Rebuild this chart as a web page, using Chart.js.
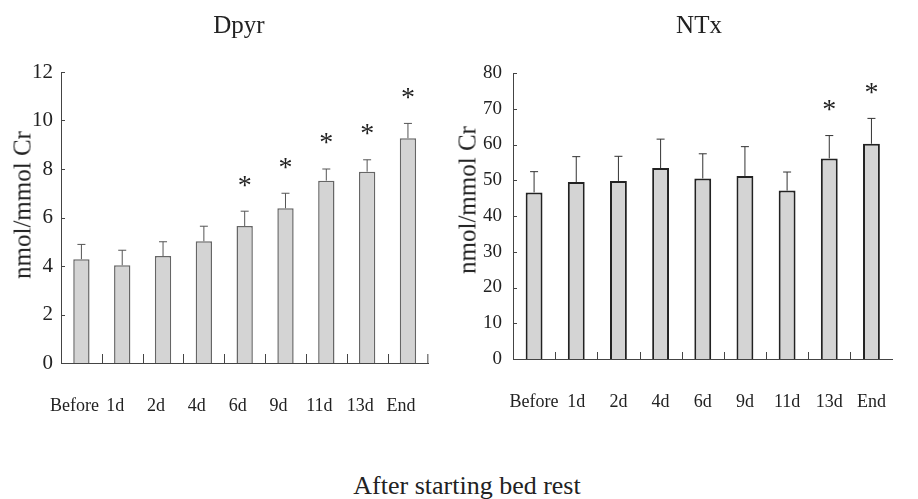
<!DOCTYPE html>
<html>
<head>
<meta charset="utf-8">
<script src="https://cdn.jsdelivr.net/npm/chart.js@4/dist/chart.umd.min.js"></script>
<style>
  body { margin: 0; background: #fff; }
  #wrap { position: relative; width: 918px; height: 499px; font-family: 'Liberation Serif', serif; color: #222; }
  .box { position: absolute; top: 0; height: 440px; }
  .lbl { position: absolute; line-height: 1; white-space: nowrap; }
</style>
</head>
<body>
<div id="wrap">
  <div class="box" style="left:0;width:455px"><canvas id="dpyrChart"></canvas></div>
  <div class="box" style="left:455px;width:463px"><canvas id="ntxChart"></canvas></div>
  <div class="lbl" style="left:239px;top:12px;font-size:25px;transform:translateX(-50%)">Dpyr</div>
  <div class="lbl" style="left:699px;top:12px;font-size:25px;transform:translateX(-50%)">NTx</div>
  <div class="lbl" style="left:22px;top:205px;font-size:25px;transform:translate(-50%,-50%) rotate(-90deg)">nmol/mmol Cr</div>
  <div class="lbl" style="left:467px;top:200px;font-size:25px;transform:translate(-50%,-50%) rotate(-90deg)">nmol/mmol Cr</div>
  <div class="lbl" style="left:467px;top:473px;font-size:26px;transform:translateX(-50%)">After starting bed rest</div>
</div>
<script>
const categories = ["Before", "1d", "2d", "4d", "6d", "9d", "11d", "13d", "End"];

const dpyrMean = [4.28, 4.03, 4.41, 5.02, 5.65, 6.38, 7.52, 7.89, 9.27];
const dpyrSD = [0.61, 0.62, 0.59, 0.62, 0.61, 0.62, 0.48, 0.49, 0.61];
const dpyrSig = [false, false, false, false, true, true, true, true, true];
const dpyrTicks = [0, 2, 4, 6, 8, 10, 12];

const ntxMean = [46.6, 49.5, 49.8, 53.4, 50.5, 51.2, 47.1, 56.1, 60.2];
const ntxSD = [5.8, 7.1, 6.9, 8.1, 6.9, 8.2, 5.2, 6.4, 7.1];
const ntxSig = [false, false, false, false, false, false, false, true, true];
const ntxTicks = [0, 10, 20, 30, 40, 50, 60, 70, 80];

const serif = "'Liberation Serif', serif";

// error bars, asterisks and the little inward tick marks
function decorations(sd, sig, lineColor, xTickLen, endTick) {
    return {
        id: 'decorations',
        afterDatasetsDraw(chart) {
            const ctx = chart.ctx;
            const area = chart.chartArea;
            const x = chart.scales.x;
            const y = chart.scales.y;
            const means = chart.data.datasets[0].data;
            const bars = chart.getDatasetMeta(0).data;
            ctx.save();
            ctx.strokeStyle = lineColor;
            ctx.lineWidth = 1;
            bars.forEach((bar, i) => {
                const top = y.getPixelForValue(means[i] + sd[i]);
                ctx.beginPath();
                ctx.moveTo(bar.x, bar.y);
                ctx.lineTo(bar.x, top);
                ctx.moveTo(bar.x - 4, top);
                ctx.lineTo(bar.x + 4, top);
                ctx.stroke();
                if (sig[i]) {
                    ctx.fillStyle = '#222';
                    ctx.font = "28px " + serif;
                    ctx.textAlign = 'center';
                    ctx.textBaseline = 'middle';
                    ctx.fillText('*', bar.x, top - 25);
                }
            });
            ctx.strokeStyle = '#444';
            ctx.beginPath();
            y.ticks.forEach(t => {
                const py = Math.round(y.getPixelForValue(t.value)) + 0.5;
                ctx.moveTo(area.left, py);
                ctx.lineTo(area.left + 4, py);
            });
            for (let i = 1; i < categories.length; i++) {
                const px = Math.round((x.getPixelForValue(i - 1) + x.getPixelForValue(i)) / 2) + 0.5;
                ctx.moveTo(px, area.bottom);
                ctx.lineTo(px, area.bottom - xTickLen);
            }
            if (endTick) {
                ctx.moveTo(area.right - 0.5, area.bottom);
                ctx.lineTo(area.right - 0.5, area.bottom - xTickLen);
            }
            ctx.stroke();
            ctx.restore();
        }
    };
}

function makeChart(id, means, sd, sig, ticks, opt) {
    return new Chart(document.getElementById(id).getContext('2d'), {
        type: 'bar',
        data: {
            labels: categories,
            datasets: [
                {
                    data: means,
                    backgroundColor: '#d4d4d4',
                    borderColor: opt.barBorder,
                    borderWidth: opt.barBorderWidth,
                    barPercentage: 0.4,
                    categoryPercentage: 1
                }
            ]
        },
        options: {
            responsive: true,
            maintainAspectRatio: false,
            animation: false,
            layout: {
                padding: opt.padding
            },
            scales: {
                x: {
                    grid: { display: false, drawTicks: false },
                    border: { display: true, color: '#444', width: 1 },
                    ticks: {
                        color: '#222',
                        font: { family: serif, size: 18 },
                        padding: 32,
                        labelOffset: opt.labelOffset,
                        maxRotation: 0,
                        autoSkip: false
                    },
                    afterFit(scale) { scale.height = 60; }
                },
                y: {
                    min: ticks[0],
                    max: ticks[ticks.length - 1],
                    grid: { display: false, drawTicks: false },
                    border: { display: true, color: '#444', width: 1 },
                    ticks: {
                        color: '#222',
                        font: { family: serif, size: opt.yFont },
                        padding: opt.yPad
                    },
                    afterBuildTicks(scale) {
                        scale.ticks = ticks.map(v => ({ value: v }));
                    },
                    afterFit(scale) { scale.width = opt.yWidth; }
                }
            },
            plugins: {
                legend: { display: false },
                tooltip: { enabled: false }
            }
        },
        plugins: [decorations(sd, sig, opt.errColor, opt.xTickLen, opt.endTick)]
    });
}

makeChart('dpyrChart', dpyrMean, dpyrSD, dpyrSig, dpyrTicks, {
    padding: { top: 72, right: 10, bottom: 17, left: 0 },
    yWidth: 61,
    yFont: 21,
    yPad: 8,
    labelOffset: -7,
    barBorder: '#666',
    barBorderWidth: 1.5,
    errColor: '#555',
    xTickLen: 9,
    endTick: true
});

makeChart('ntxChart', ntxMean, ntxSD, ntxSig, ntxTicks, {
    padding: { top: 73, right: 1, bottom: 21, left: 0 },
    yWidth: 58,
    yFont: 19,
    yPad: 11,
    labelOffset: 0,
    barBorder: '#222',
    barBorderWidth: 2,
    errColor: '#333',
    xTickLen: 7,
    endTick: false
});
</script>
</body>
</html>
